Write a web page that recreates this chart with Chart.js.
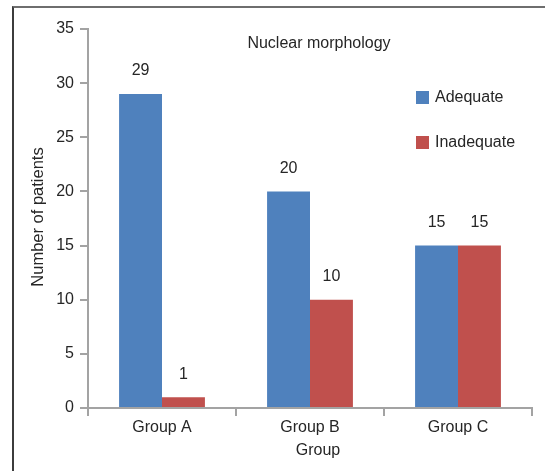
<!DOCTYPE html>
<html>
<head>
<meta charset="utf-8">
<script src="https://cdn.jsdelivr.net/npm/chart.js@4.4.1/dist/chart.umd.min.js"></script>
<style>
  html, body { margin: 0; padding: 0; background: #fff; }
  #wrap { position: relative; width: 545px; height: 471px; overflow: hidden; }
  #frame { position: absolute; left: 12px; top: 6px; right: -10px; bottom: -10px;
           border-left: 2px solid #3c3c3c; border-top: 2px solid #6e6e6e; pointer-events: none; }
  canvas { position: absolute; left: 0; top: 0; }
</style>
</head>
<body>
<div id="wrap">
  <canvas id="c" width="545" height="471"></canvas>
  <div id="frame"></div>
</div>
<script>
const categories = ['Group A', 'Group B', 'Group C'];
const adequate = [29, 20, 15];
const inadequate = [1, 10, 15];
const seriesNames = ['Adequate', 'Inadequate'];
const yTicks = [0, 5, 10, 15, 20, 25, 30, 35];

const FONT = '"Liberation Sans", Arial, sans-serif';
const TEXT = '#262626';
const AXIS = '#a3a3a3';

// Labels above each bar, title and legend inside the plot, axis titles
const extras = {
  id: 'extras',
  afterDatasetsDraw(chart) {
    const ctx = chart.ctx;
    ctx.save();
    ctx.fillStyle = TEXT;
    ctx.font = '16px ' + FONT;
    ctx.textAlign = 'center';
    ctx.textBaseline = 'middle';
    chart.data.datasets.forEach((ds, i) => {
      chart.getDatasetMeta(i).data.forEach((bar, j) => {
        const p = bar.getProps(['x', 'y'], true);
        ctx.fillText(String(ds.data[j]), p.x, p.y - 23);
      });
    });
    // chart title
    ctx.fillText('Nuclear morphology', 319, 44);
    // legend
    ctx.textAlign = 'left';
    const legendY = [97, 142];
    chart.data.datasets.forEach((ds, i) => {
      ctx.fillStyle = ds.backgroundColor;
      ctx.fillRect(416, legendY[i] - 6, 13, 13);
      ctx.fillStyle = TEXT;
      ctx.fillText(ds.label, 435, legendY[i] + 1);
    });
    // axis titles
    ctx.textAlign = 'center';
    ctx.fillText('Group', 318, 451);
    ctx.translate(38, 217);
    ctx.rotate(-Math.PI / 2);
    ctx.font = '16.5px ' + FONT;
    ctx.fillText('Number of patients', 0, 0);
    ctx.restore();
  }
};

new Chart(document.getElementById('c'), {
  type: 'bar',
  data: {
    labels: categories,
    datasets: [
      { label: seriesNames[0], data: adequate, backgroundColor: '#4f81bd' },
      { label: seriesNames[1], data: inadequate, backgroundColor: '#c0504d' }
    ]
  },
  options: {
    responsive: false,
    animation: false,
    devicePixelRatio: 1,
    categoryPercentage: 0.58,
    barPercentage: 1.0,
    layout: { padding: { left: 0, right: 13, top: 29, bottom: 0 } },
    plugins: { legend: { display: false }, title: { display: false }, tooltip: { enabled: false } },
    scales: {
      x: {
        grid: { display: true, drawOnChartArea: false, drawTicks: true, tickLength: 8, color: AXIS, lineWidth: 2, offset: true },
        border: { display: true, color: AXIS, width: 2 },
        ticks: { color: TEXT, font: { size: 16, family: FONT }, padding: 2 },
        afterFit(scale) { scale.height = 63; }
      },
      y: {
        min: 0, max: 35,
        afterBuildTicks(scale) { scale.ticks = yTicks.map(v => ({ value: v })); },
        grid: { display: true, drawOnChartArea: false, drawTicks: true, tickLength: 8, color: AXIS, lineWidth: 2 },
        border: { display: true, color: AXIS, width: 2 },
        ticks: { color: TEXT, font: { size: 16, family: FONT }, padding: 6 },
        afterFit(scale) { scale.width = 88; }
      }
    }
  },
  plugins: [extras]
});
</script>
</body>
</html>
